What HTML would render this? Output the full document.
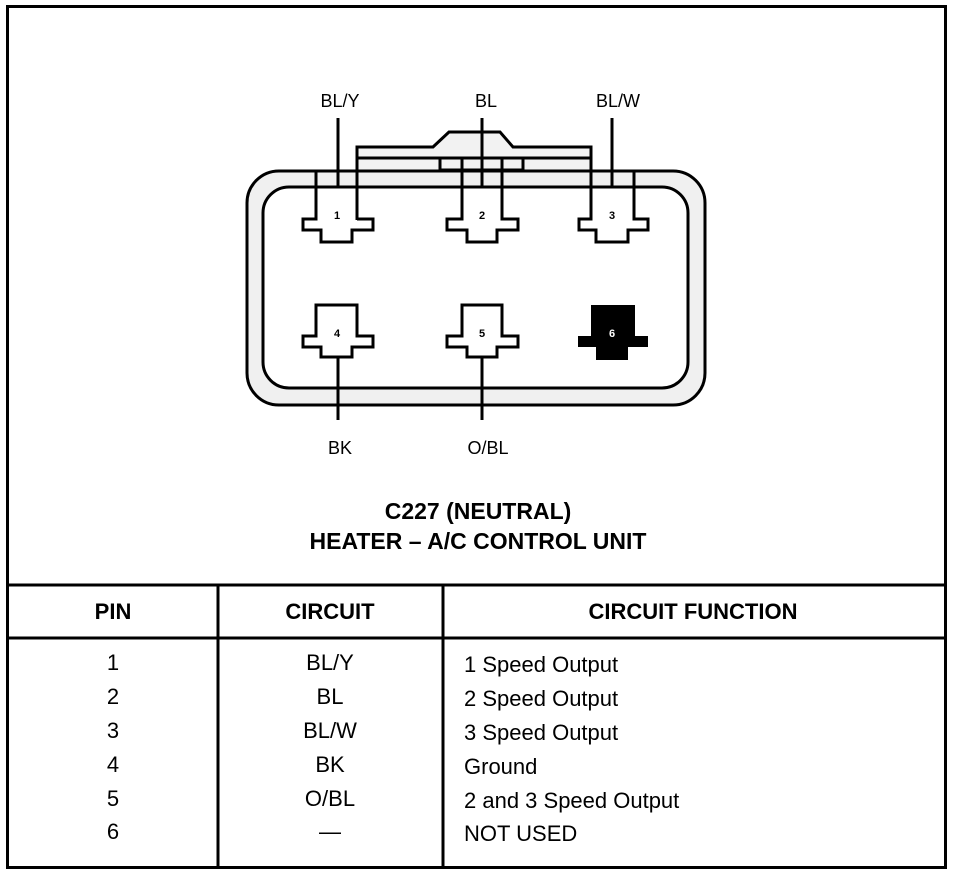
<!DOCTYPE html>
<html><head><style>
html,body{margin:0;padding:0;background:#fff;}
svg{display:block;}
text{font-family:"Liberation Sans",Arial,sans-serif;fill:#000;}
</style></head><body>
<svg width="960" height="876" viewBox="0 0 960 876" xmlns="http://www.w3.org/2000/svg">
<rect x="7.5" y="6.5" width="938" height="861" fill="none" stroke="#000" stroke-width="3"/>
<path d="M357 172 V147 H433 L449 132 H500 L513 147 H591 V172 Z" fill="#f2f2f2" stroke="#000" stroke-width="3"/>
<line x1="357" y1="158" x2="591" y2="158" stroke="#000" stroke-width="3"/>
<rect x="440" y="158" width="83" height="12" fill="#f2f2f2" stroke="#000" stroke-width="3"/>
<path d="M279 171 H673 A32 32 0 0 1 705 203 V373 A32 32 0 0 1 673 405 H279 A32 32 0 0 1 247 373 V203 A32 32 0 0 1 279 171 Z" fill="#f0f0f0" stroke="#000" stroke-width="3"/>
<rect x="263" y="187" width="425" height="201" rx="26" fill="#fff" stroke="#000" stroke-width="3"/>
<g stroke="#000" stroke-width="3">
<line x1="357" y1="147" x2="357" y2="220"/>
<line x1="591" y1="147" x2="591" y2="220"/>
</g>
<g fill="none" stroke="#000" stroke-width="3">
<path d="M316 171 V219 H303 V230 H321 V242 H352 V230 H373 V219 H357"/>
<path d="M462 158 V219 H447 V230 H467 V242 H497 V230 H518 V219 H502 V158"/>
<path d="M591 158 V219 H579 V230 H596 V242 H628 V230 H648 V219 H634 V171"/>
</g>
<g fill="#fff" stroke="#000" stroke-width="3">
<path d="M316 305 H357 V336 H373 V347 H352 V357 H321 V347 H303 V336 H316 Z"/>
<path d="M462 305 H502 V336 H518 V347 H497 V357 H467 V347 H447 V336 H462 Z"/>
</g>
<path d="M591 305 H635 V336 H648 V347 H628 V360 H596 V347 H578 V336 H591 Z" fill="#000"/>
<g font-size="11" font-weight="bold" text-anchor="middle">
<text x="337" y="219">1</text>
<text x="482" y="219">2</text>
<text x="612" y="219">3</text>
<text x="337" y="337">4</text>
<text x="482" y="337">5</text>
<text x="612" y="337" style="fill:#fff">6</text>
</g>
<g stroke="#000" stroke-width="3">
<line x1="338" y1="118" x2="338" y2="187"/>
<line x1="482" y1="118" x2="482" y2="187"/>
<line x1="612" y1="118" x2="612" y2="187"/>
<line x1="338" y1="357" x2="338" y2="420"/>
<line x1="482" y1="357" x2="482" y2="420"/>
</g>
<g font-size="18" text-anchor="middle">
<text x="340" y="107">BL/Y</text>
<text x="486" y="107">BL</text>
<text x="618" y="107">BL/W</text>
<text x="340" y="454">BK</text>
<text x="488" y="454">O/BL</text>
</g>
<g font-size="23" font-weight="bold" text-anchor="middle">
<text x="478" y="519">C227 (NEUTRAL)</text>
<text x="478" y="549">HEATER – A/C CONTROL UNIT</text>
</g>
<g stroke="#000" stroke-width="3">
<line x1="8" y1="585" x2="946" y2="585"/>
<line x1="8" y1="638" x2="946" y2="638"/>
<line x1="218" y1="585" x2="218" y2="867"/>
<line x1="443" y1="585" x2="443" y2="867"/>
</g>
<g font-size="22" font-weight="bold" text-anchor="middle">
<text x="113" y="619">PIN</text>
<text x="330" y="619">CIRCUIT</text>
<text x="693" y="619">CIRCUIT FUNCTION</text>
</g>
<g font-size="22" text-anchor="middle">
<text x="113" y="670">1</text>
<text x="113" y="704">2</text>
<text x="113" y="738">3</text>
<text x="113" y="772">4</text>
<text x="113" y="806">5</text>
<text x="113" y="839">6</text>
<text x="330" y="670">BL/Y</text>
<text x="330" y="704">BL</text>
<text x="330" y="738">BL/W</text>
<text x="330" y="772">BK</text>
<text x="330" y="806">O/BL</text>
<text x="330" y="839">—</text>
</g>
<g font-size="22">
<text x="464" y="672">1 Speed Output</text>
<text x="464" y="706">2 Speed Output</text>
<text x="464" y="740">3 Speed Output</text>
<text x="464" y="774">Ground</text>
<text x="464" y="808">2 and 3 Speed Output</text>
<text x="464" y="841">NOT USED</text>
</g>
</svg>
</body></html>
